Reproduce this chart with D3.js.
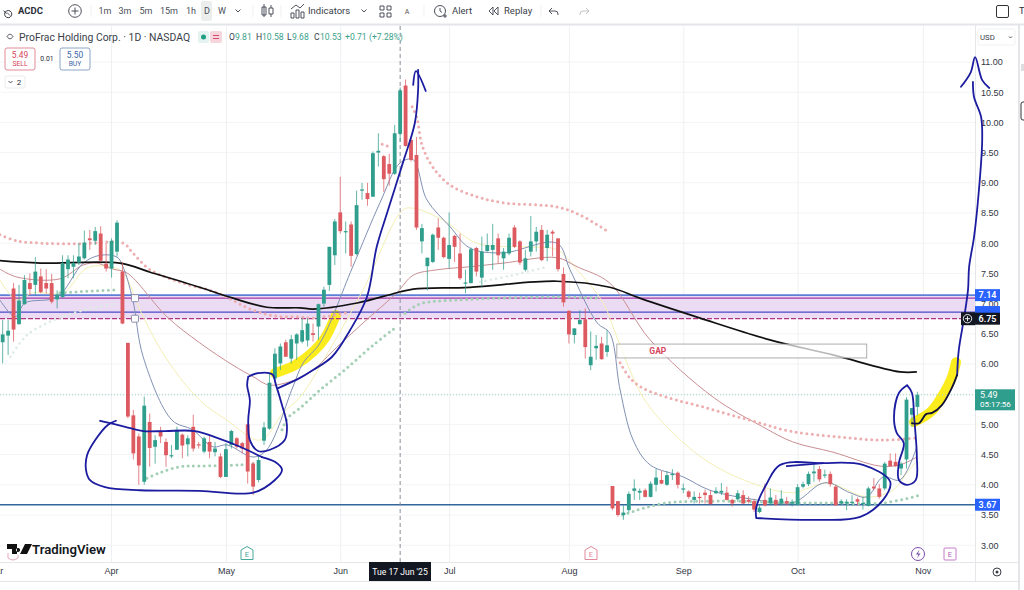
<!DOCTYPE html>
<html><head><meta charset="utf-8">
<script src="https://cdnjs.cloudflare.com/ajax/libs/d3/7.8.5/d3.min.js"></script>
<style>html,body{margin:0;padding:0;background:#fff;overflow:hidden}svg{display:block;font-family:Roboto,"Liberation Sans",sans-serif}</style>
</head><body><svg id="c" width="1024" height="590"></svg>
<script>
// ---- price data: one entry per daily bar
const opens=[6.36,6.47,7.25,6.66,6.99,7.34,7.31,7.45,7.34,7.34,7.07,7.11,7.57,7.61,7.68,7.75,8.08,8.04,8.16,7.66,7.58,7.86,7.53,6.35,5.15,4.80,4.05,5.04,4.63,4.89,4.71,4.47,4.58,4.83,4.67,4.96,4.67,4.55,4.71,4.54,4.47,4.13,4.66,4.77,4.69,5.00,4.35,4.08,4.73,4.93,5.76,6.01,6.36,6.09,6.34,6.37,6.39,6.51,6.62,7.00,7.31,7.80,8.51,8.19,8.31,7.82,8.87,8.83,8.77,9.50,9.44,9.31,9.15,9.81,10.61,9.71,9.46,8.03,7.62,7.69,8.26,8.09,7.74,8.12,7.83,7.33,7.34,7.92,7.43,7.87,7.89,8.08,7.75,7.83,8.26,8.03,7.56,7.86,8.03,8.22,7.92,8.19,8.08,7.49,6.88,6.48,6.66,6.74,5.98,6.26,6.34,6.20,3.98,3.73,3.50,3.58,3.90,3.87,3.91,3.80,4.00,4.08,4.00,4.16,4.20,3.92,3.89,3.75,3.80,3.87,3.83,3.86,3.87,3.87,3.75,3.76,3.83,3.75,3.73,3.55,3.75,3.69,3.75,3.69,3.73,3.69,3.67,3.97,4.01,4.19,4.26,4.16,4.18,3.97,3.69,3.69,3.71,3.76,3.68,3.65,3.97,3.94,3.94,4.40,4.38,4.27,4.42,5.16,5.29];
const highs=[6.73,6.73,7.34,7.31,7.47,7.50,7.77,7.58,7.57,7.49,7.22,7.80,7.80,7.80,8.00,8.21,8.22,8.27,8.28,8.00,8.08,8.38,7.69,6.35,5.24,4.85,5.46,5.18,4.82,4.96,4.77,4.66,4.96,4.85,4.82,5.16,4.71,4.80,4.82,4.71,4.52,4.69,4.91,4.79,4.71,5.00,4.38,4.49,5.04,5.84,6.26,6.34,6.40,6.48,6.51,6.76,6.76,6.67,7.00,7.28,7.94,8.40,9.10,8.36,8.36,8.87,9.00,9.00,9.52,9.82,9.46,9.48,9.96,10.58,10.71,9.76,9.76,8.32,7.76,8.16,8.41,8.11,8.51,8.14,8.16,7.56,7.93,7.94,8.11,8.16,8.32,8.16,7.92,8.16,8.30,8.05,7.89,8.45,8.27,8.30,8.22,8.22,8.08,7.60,6.89,6.59,6.89,6.92,6.54,6.48,6.45,6.56,3.98,3.73,3.66,3.89,4.09,3.94,3.94,4.06,4.26,4.23,4.23,4.26,4.22,4.02,3.91,3.89,3.87,3.92,3.91,3.96,4.03,3.97,3.77,3.91,3.91,3.81,3.76,3.66,4.02,3.94,3.83,3.91,3.80,3.76,4.01,4.05,4.22,4.34,4.31,4.25,4.22,4.00,3.76,3.76,3.83,3.79,3.80,3.97,4.11,4.01,4.38,4.52,4.52,4.38,5.45,5.27,5.54];
const lows=[6.01,6.15,6.37,6.65,6.98,7.14,7.14,7.17,7.17,7.00,6.92,7.09,7.42,7.42,7.64,7.73,7.89,7.97,7.69,7.53,7.43,7.78,6.66,5.10,4.42,4.00,4.00,4.30,4.35,4.69,4.30,4.44,4.58,4.44,4.47,4.55,4.60,4.52,4.44,4.47,4.11,4.13,4.60,4.60,4.52,4.02,3.83,4.04,4.66,4.91,5.71,5.90,6.12,6.01,6.07,6.34,6.29,6.37,6.40,6.95,7.21,7.64,8.16,7.83,7.61,7.80,8.72,8.62,8.77,9.27,8.85,8.95,9.13,9.68,9.60,9.35,8.22,7.83,7.22,7.67,7.89,7.75,7.58,7.69,7.39,7.17,7.33,7.45,7.28,7.86,7.56,7.67,7.56,7.80,7.92,7.64,7.53,7.78,7.86,7.70,7.70,7.78,7.53,6.95,6.34,6.34,6.65,6.09,5.90,6.07,6.07,6.12,3.58,3.47,3.42,3.54,3.75,3.75,3.79,3.79,3.89,4.01,3.98,4.08,3.94,3.86,3.77,3.69,3.69,3.69,3.67,3.85,3.83,3.74,3.64,3.72,3.68,3.69,3.55,3.53,3.64,3.66,3.65,3.66,3.66,3.64,3.66,3.94,3.98,4.05,4.05,4.11,3.97,3.66,3.66,3.58,3.66,3.66,3.59,3.64,3.91,3.77,3.91,4.30,4.30,4.16,4.27,4.96,5.15];
const closes=[6.49,6.55,6.57,7.05,7.39,7.24,7.53,7.19,7.25,7.03,7.15,7.67,7.73,7.67,7.78,8.01,8.05,8.20,7.71,7.58,8.04,8.34,6.67,5.13,4.52,4.32,5.31,4.61,4.74,4.80,4.49,4.49,4.91,4.65,4.77,4.60,4.66,4.77,4.55,4.60,4.13,4.59,4.89,4.63,4.60,4.22,3.97,4.41,4.95,5.69,6.17,6.29,6.12,6.41,6.49,6.56,6.67,6.48,6.99,7.23,7.94,8.36,8.20,8.20,7.79,8.63,8.89,8.73,9.49,9.53,9.06,9.15,9.82,10.53,9.61,9.38,8.26,8.25,7.76,8.14,8.09,7.77,7.97,7.94,7.42,7.35,7.90,7.53,7.86,7.97,7.97,7.80,7.86,8.09,7.94,7.68,7.75,8.03,8.19,7.72,8.14,8.16,7.57,7.02,6.49,6.59,6.73,6.28,6.12,6.30,6.08,6.31,3.61,3.50,3.54,3.85,3.94,3.90,3.80,4.02,4.12,4.02,4.16,4.18,4.00,3.94,3.80,3.80,3.79,3.83,3.68,3.90,3.90,3.75,3.69,3.86,3.69,3.72,3.59,3.62,3.66,3.79,3.67,3.77,3.69,3.72,3.96,4.01,4.18,4.22,4.09,4.17,4.01,3.66,3.73,3.72,3.72,3.72,3.70,3.94,3.94,3.80,4.35,4.31,4.31,4.35,5.41,5.27,5.49];

// ---- axis labels
const priceTicks=[11,10.5,10,9.5,9,8.5,8,7.5,7,6.5,6,5.5,5,4.5,4,3.5,3];
const monthNames=["Mar","Apr","May","Jun","Jul","Aug","Sep","Oct","Nov"];
const monthBars=[-1.4,19.9,41,62,82,104,125,146,169];
const crosshairBar=73;
const crosshairLabel="Tue 17 Jun '25";

// ---- moving averages: [bar, price]
const ma200=[[-0.5,7.71],[6.9,7.67],[21.5,7.67],[27.1,7.52],[36.2,7.27],[42.3,7.09],[48.5,6.94],[54.6,6.93],[57,6.91],[65.1,7.01],[72.4,7.18],[75.4,7.24],[85.8,7.27],[101.8,7.37],[111.5,7.27],[117,7.09],[128.1,6.76],[140.9,6.4],[152.5,6.15],[164.8,5.87],[167.9,5.87]];
const ma20=[[-0.5,7.06],[2.3,6.78],[4.1,7.01],[10,7.11],[14.8,7.67],[17.9,7.8],[21,7.77],[22.1,7.61],[23.9,7.06],[25.8,6.12],[31.1,5.07],[34.9,4.91],[38.6,4.63],[41.2,4.66],[46,4.46],[48.5,4.58],[53.3,5.62],[55.2,6.02],[58.3,6.35],[64.2,7.59],[69.3,8.67],[73,9.33],[75.4,9.38],[77.9,8.72],[82.2,8.27],[85.8,7.92],[91.9,7.84],[101.8,8],[104.2,7.56],[109.2,6.68],[111.5,6.51],[113.4,5.57],[115.8,4.74],[118.9,4.33],[125,4.13],[129.9,3.91],[138.5,3.75],[145.1,3.7],[150.1,4.01],[151.9,4.03],[155.6,3.87],[158.7,3.8],[161.7,4.13],[164.8,4.08],[167.9,4.63]];
const ma30=[[-0.5,7.39],[2.6,7.06],[5.6,7.18],[11.1,7.18],[15.5,7.59],[19.7,7.61],[22.1,7.51],[25.8,6.78],[30.2,6.07],[36.2,5.4],[41.2,5.07],[47.3,4.74],[51.5,5.19],[54.6,5.45],[59.7,6.18],[66.2,7.23],[73.5,8.55],[75.4,8.58],[80.9,8.38],[87.1,8],[95.6,7.94],[101.8,7.89],[105.5,7.56],[110.3,7.01],[113,6.4],[117.6,5.45],[123.1,4.86],[129.9,4.36],[138.5,4],[145.1,3.87],[151.4,4.03],[158.7,3.8],[163.5,3.91],[166.1,4.2],[167.6,4.36]];
const ma50=[[-0.5,7.57],[2.6,7.44],[10.5,7.41],[14.8,7.64],[17.3,7.67],[20.3,7.57],[22.8,7.51],[30.2,6.78],[36.2,6.35],[42.3,5.98],[46,5.79],[49.1,5.65],[54.6,5.77],[57,5.9],[61.4,6.28],[66.2,6.68],[72.4,7.18],[75.4,7.47],[79.8,7.56],[85.8,7.61],[91.9,7.67],[101.8,7.76],[105.5,7.61],[111.5,7.34],[118.9,6.4],[130.5,5.45],[139.6,4.96],[145.1,4.71],[152.5,4.54],[161.1,4.31],[164.8,4.33],[167.9,4.46]];

// ---- dotted bands: [bar, price]
const pinkDots=[
 [[-0.5,8.14],[2.6,8.04],[7.4,8],[14.2,7.99],[22.1,8],[23.9,7.84],[27.1,7.56],[33.1,7.34],[39.4,7.18],[46,6.89],[50.4,6.79],[54.6,6.78],[57,6.76],[63.8,6.86]],
 [[69.7,9.64],[71.5,9.58]],
 [[75.2,10.26],[76.1,10.07],[77,9.63],[79,9.26],[82.2,8.96],[87.1,8.77],[91.9,8.67],[101.8,8.6],[106,8.47],[111.2,8.19]],
 [[113.4,6.02],[115.2,5.77],[117.6,5.6],[122,5.45],[129.4,5.27],[137.2,5.07],[144.6,4.89],[153.8,4.79],[161.7,4.74],[168.1,4.78]]
];
const greenDots=[
 [[10.5,7.18],[21.2,7.23]],
 [[26.5,4.11],[28.9,4.2],[32.6,4.3],[36.2,4.31],[43.6,4.33],[47.8,4.36]],
 [[51.3,4.91],[52.4,5.11],[54.6,5.27],[58.3,5.57],[63.2,5.93],[68,6.31],[72.1,6.6]],
 [[73.9,6.84],[75.4,6.94],[77.2,7.01],[83.4,7.06],[101.8,7.11],[109.7,7.09]],
 [[113.9,3.5],[116.5,3.58],[122,3.7],[131.2,3.73],[146.4,3.7],[152.5,3.7],[161.7,3.7],[168.1,3.82]]
];
const paleDots=[
 [[1.4,6.12],[4.5,6.48],[8.7,6.7],[12.9,6.84],[21,7.01]],
 [[87.7,7.36],[93.2,7.46],[100,7.61]]
];

// ---- levels, gap box
const levelTop=7.14, levelMagenta=7.09, levelBlue=6.86, levelBottom=6.75, levelSupport=3.67, lastPrice=5.49;
const gapBox={from:112.8,to:158.7,top:6.33,bottom:6.10,label:"GAP"};
const handleBars=[24.3,24.3];

// ---- hand-drawn annotations: [bar, price]
const penTrend=[[17.9,5.06],[22.5,4.96],[25.8,4.89],[29.8,4.89],[35.3,4.89],[39,4.79],[43.6,4.63],[47.6,4.46]];
const penEllipseLeft=[[20.8,5.06],[19.3,4.99],[17,4.74],[15.5,4.49],[15.3,4.25],[16,4.08],[18.8,3.96],[25.2,3.91],[36.2,3.9],[46,3.87],[50,4.08],[51.3,4.25],[50,4.38],[47.6,4.46]];
const penLoopMay=[[45.1,5.79],[46.9,5.85],[49.5,5.83],[50.2,5.65],[51.3,5.32],[52.2,4.99],[51.8,4.74],[49.1,4.58],[46.9,4.56],[45.4,4.74],[45.1,5.07],[45.4,5.4],[44.9,5.65],[45.1,5.79]];
const penArrowMain=[[50.6,5.6],[54.6,5.77],[57,5.9],[60.5,6.12],[63.8,6.56],[66.9,7.11],[68.7,7.94],[70.6,8.5],[73.5,9.33],[75.7,9.99],[76.3,10.54],[76.3,10.87]];
const penArrowMainHead=[[75.4,10.62],[75.9,10.85],[77.7,10.52]];
const penRightBlack=[[167,5.02],[168.3,5.02],[169.6,5.17],[170.7,5.19],[172.5,5.32],[174.3,5.6],[175.3,5.82]];
const penRightBlue=[[175.3,5.82],[175.6,6.23],[176.6,6.78],[177.3,7.23],[177.5,7.61],[178.4,8.1],[179.3,8.88],[179.9,9.71],[179.7,10.09],[178.4,10.42],[178.2,10.67]];
const penRightHead=[[176,10.59],[177.8,10.83],[178.6,11.08],[179.9,10.7],[181.2,10.57]];
const penLoopLast=[[166.1,5.65],[164.6,5.52],[163.7,5.12],[164.2,4.86],[165.5,4.69],[164.6,4.36],[164.6,4.08],[166.1,4],[167.7,4.08],[167.9,4.46],[167.4,5.12],[167,5.52],[166.1,5.65]];
const penEllipseOct=[[138.4,3.45],[138.4,3.62],[140.4,4.03],[142.8,4.33],[150.7,4.36],[158,4.33],[163,4.05],[161.7,3.75],[157.5,3.47],[149.6,3.42],[138.4,3.45]];
const penOctTop=[[144,4.31],[150.7,4.36]];
const markerJun=[[50,5.85],[53.7,5.98],[57,6.2],[59.2,6.43],[61.2,6.81]];
const markerNov=[[167.4,5.04],[170.5,5.21],[172.9,5.52],[174.3,5.77],[175.1,6.03]];

// ---- chart set-up
const svg=d3.select("#c");
const PL=0,PR=975,PT=26,PB=562;
const x=d3.scaleLinear().domain([0,168]).range([2.67,917.4]);
const y=d3.scaleLinear().domain([3,11]).range([545.2,62]);
const GREEN="#2f9e8c",RED="#dc5a60",PEN="#1c1ca0";
const lineGen=c=>d3.line().x(d=>x(d[0])).y(d=>y(d[1])).curve(c||d3.curveCatmullRom.alpha(.5));

const G=svg.append("g");
// grid
G.selectAll(".gy").data(priceTicks).join("line").attr("x1",PL).attr("x2",PR).attr("y1",d=>y(d)).attr("y2",d=>y(d)).attr("stroke","#f3f4f6");
G.selectAll(".gx").data(monthBars).join("line").attr("x1",d=>x(d)+.5).attr("x2",d=>x(d)+.5).attr("y1",PT).attr("y2",PB).attr("stroke","#eef0f3");

// zone
G.append("rect").attr("x",PL).attr("width",PR-PL).attr("y",y(levelTop)).attr("height",y(levelBottom)-y(levelTop)).attr("fill","#ecdcf3");

// markers
[[markerJun,10],[markerNov,10]].forEach(([d,w])=>G.append("path").attr("d",lineGen()(d)).attr("fill","none").attr("stroke","#fbec1e").attr("stroke-width",w).attr("stroke-linecap","round"));

// level lines
const lvl=(v,col,w,dash)=>G.append("line").attr("x1",PL).attr("x2",PR).attr("y1",y(v)).attr("y2",y(v)).attr("stroke",col).attr("stroke-width",w).attr("stroke-dasharray",dash||null);
lvl(levelTop,"#5b80d6",1.8);lvl(levelMagenta,"#a43aa8",1.2);lvl(levelBlue,"#4a4ac8",1.2);lvl(levelBottom,"#b0337f",1.2,"5 2");lvl(levelSupport,"#33669c",1.4);
lvl(lastPrice,"#9fd3c6",1,"1 2");

// indicators
[[ma30,"#f4efb4",1],[ma50,"#c98e92",1],[ma20,"#8090b4",1]].forEach(([d,c,w])=>G.append("path").attr("d",lineGen()(d)).attr("fill","none").attr("stroke",c).attr("stroke-width",w));
const dotted=(sets,c,w)=>sets.forEach(d=>G.append("path").attr("d",lineGen()(d)).attr("fill","none").attr("stroke",c).attr("stroke-width",w).attr("stroke-linecap","round").attr("stroke-dasharray","0 5.4"));
dotted(paleDots,"#dcebe4",2.6);dotted(pinkDots,"#eeaeb0",3);dotted(greenDots,"#a3cfb4",3);
G.append("path").attr("d",lineGen()(ma200)).attr("fill","none").attr("stroke","#111").attr("stroke-width",1.7);

// crosshair
G.append("line").attr("x1",x(crosshairBar)).attr("x2",x(crosshairBar)).attr("y1",PT).attr("y2",PB).attr("stroke","#8a8f99").attr("stroke-dasharray","4 3");

// candles
const bars=d3.range(opens.length).map(i=>({i,o:opens[i],h:highs[i],l:lows[i],c:closes[i]}));
const col=d=>d.c>=d.o?GREEN:RED;
const C=G.selectAll(".bar").data(bars).join("g");
C.append("line").attr("x1",d=>x(d.i)).attr("x2",d=>x(d.i)).attr("y1",d=>y(d.h)).attr("y2",d=>y(d.l)).attr("stroke",d=>col(d)).attr("stroke-opacity",.75);
C.append("rect").attr("x",d=>x(d.i)-1.9).attr("width",3.8).attr("y",d=>y(Math.max(d.o,d.c))).attr("height",d=>Math.max(1.2,Math.abs(y(d.o)-y(d.c)))).attr("fill",d=>col(d));

// handles
G.selectAll(".h").data([levelMagenta,levelBottom]).join("rect").attr("x",x(handleBars[0])-3.5).attr("y",d=>y(d)-3.5).attr("width",7).attr("height",7).attr("rx",1).attr("fill","#fff").attr("stroke","#8b8fa8");

// gap box
G.append("rect").attr("x",x(gapBox.from)).attr("width",x(gapBox.to)-x(gapBox.from)).attr("y",y(gapBox.top)).attr("height",y(gapBox.bottom)-y(gapBox.top)).attr("fill","#fff").attr("fill-opacity",.7).attr("stroke","#9a9a9a").attr("stroke-width",.8);
G.append("text").attr("x",x(gapBox.from)+41).attr("y",(y(gapBox.top)+y(gapBox.bottom))/2+3).attr("text-anchor","middle").attr("font-size",8.5).attr("font-weight",700).attr("fill","#d6485c").text(gapBox.label);

// axes
const yAxis=d3.axisRight(y).tickValues(priceTicks).tickFormat(d3.format(".2f")).tickSize(0).tickPadding(5.5);
const ya=svg.append("g").attr("transform",`translate(${PR+.5},0)`).call(yAxis);
ya.select(".domain").remove();ya.selectAll("text").attr("font-size",9).attr("fill","#33363f").attr("font-family",null);
const xAxis=d3.axisBottom(x).tickValues(monthBars).tickFormat((d,i)=>monthNames[i]).tickSize(0).tickPadding(6);
const xa=svg.append("g").attr("transform",`translate(0,${PB})`).call(xAxis);
xa.select(".domain").remove();xa.selectAll("text").attr("font-size",9).attr("fill","#33363f").attr("font-family",null);

// frame lines
const hl=(x1,y1,x2,y2,c,w)=>svg.append("line").attr("x1",x1).attr("y1",y1).attr("x2",x2).attr("y2",y2).attr("stroke",c).attr("stroke-width",w||1);
hl(0,24.5,1024,24.5,"#e4e5e8",2);hl(975.5,25,975.5,581,"#e6e7ea");hl(0,562.5,1018,562.5,"#e6e7ea");hl(0,581.5,1018,581.5,"#e4e5e8");hl(1019,25,1019,590,"#e4e5e8",2);

// pen annotations
const pen=(d,c,w)=>svg.append("path").attr("d",lineGen()(d)).attr("fill","none").attr("stroke",c||PEN).attr("stroke-width",w||1.8).attr("stroke-linecap","round").attr("stroke-linejoin","round");
[penEllipseLeft,penTrend,penLoopMay,penArrowMain,penArrowMainHead,penLoopLast,penEllipseOct,penOctTop,penRightBlue,penRightHead].forEach(d=>pen(d));
pen(penRightBlack,"#10103c");

// tags
const tag=(v,c,t,x0,w)=>{svg.append("rect").attr("x",x0||975).attr("width",w||25).attr("y",y(v)-6).attr("height",12).attr("fill",c);
 svg.append("text").attr("x",(x0||975)+(w||25)-12.5).attr("y",y(v)+3.2).attr("text-anchor","middle").attr("font-size",9).attr("font-weight",600).attr("fill","#fff").text(t);};
tag(levelBlue,"#2962ff","");
tag(levelTop,"#2962ff",levelTop.toFixed(2));
tag(levelSupport,"#2962ff",levelSupport.toFixed(2));
svg.append("rect").attr("x",961).attr("y",y(levelBottom)-6.5).attr("width",14).attr("height",13).attr("fill","#131722");
tag(levelBottom,"#131722",levelBottom.toFixed(2));
svg.append("circle").attr("cx",967.5).attr("cy",y(levelBottom)).attr("r",4.2).attr("fill","none").attr("stroke","#fff").attr("stroke-width",.9);
svg.append("path").attr("d",`M965 ${y(levelBottom)}h5M967.5 ${y(levelBottom)-2.5}v5`).attr("stroke","#fff").attr("stroke-width",.9);
svg.append("rect").attr("x",975).attr("y",y(lastPrice)-5.5).attr("width",40).attr("height",21).attr("fill","#2f9e8c");
svg.append("text").attr("x",980).attr("y",y(lastPrice)+2.8).attr("font-size",9).attr("fill","#fff").text(lastPrice.toFixed(2));
svg.append("text").attr("x",980).attr("y",y(lastPrice)+12.6).attr("font-size",8).attr("fill","#fff").text("05:17:56");
// crosshair time tag
svg.append("rect").attr("x",369).attr("y",562).attr("width",62).attr("height",19).attr("fill","#131722");
svg.append("text").attr("x",400).attr("y",575).attr("text-anchor","middle").attr("font-size",8.6).attr("fill","#fff").text(crosshairLabel);

// toolbar
const T=(s,xx,yy,o={})=>svg.append("text").attr("x",xx).attr("y",yy).attr("font-size",o.fs||9).attr("font-weight",o.fw||400).attr("fill",o.c||"#2a2e39").attr("text-anchor",o.a||"start").text(s);
const S=(d,w)=>svg.append("path").attr("d",d).attr("fill","none").attr("stroke","#3a3e49").attr("stroke-width",w||.9);
svg.append("rect").attr("x",201).attr("y",1).attr("width",11).attr("height",20).attr("rx",2).attr("fill","#eceded");
T("ACDC",18,14,{fs:9.5,fw:700});
S("M8.2 10.5a3.6 3.6 0 1 0 .01 0M6.5 13.6l-3 -3",1);
S("M7 12.5l3 3");
svg.select("path:last-child");
svg.append("circle").attr("cx",75).attr("cy",11).attr("r",6.3).attr("fill","none").attr("stroke","#3a3e49").attr("stroke-width",.9);
S("M71.5 11h7M75 7.5v7");
[["1m",105],["3m",125],["5m",146],["15m",169],["1h",191],["D",207],["W",222]].forEach(([t,xx])=>T(t,xx,14,{a:"middle",c:"#4a4e59"}));
S("M235.5 9.5l2.5 2.5 2.5-2.5");
S("M91 5v12M253 5v12M281 5v12M424 5v12M541 5v12",.6).attr("stroke","#e4e5e8");
S("M264 4v13M262 7h4v8h-4zM269 8h4v6h-4zM271 5v3M271 14v3");
S("M291 18v-5h3v5zM296 18v-8h3v8zM301 18v-6h3v6zM291 9l5-4 4 3 4-4");
T("Indicators",308,14,{fs:9.5,c:"#3a3e49"});
S("M361.5 9.5l2.5 2.5 2.5-2.5");
S("M380 6h4v4h-4zM387 6h4v4h-4zM380 13h4v4h-4zM387 13h4v4h-4z");
T("A",407,14,{fs:7,a:"middle",c:"#555"});
svg.append("circle").attr("cx",440).attr("cy",11).attr("r",5.5).attr("fill","none").attr("stroke","#3a3e49").attr("stroke-width",.9);
S("M440 8v3l2 1.5M443 16h4M445 14v4");
T("Alert",452,14,{fs:9.5,c:"#3a3e49"});
S("M493 7l-4 4 4 4zM498 7l-4 4 4 4z");
T("Replay",504,14,{fs:9.5,c:"#3a3e49"});
S("M552 8l-3 3 3 3M549 11h6a3 3 0 0 1 3 3v1");
S("M586 8l3 3-3 3M589 11h-6a3 3 0 0 0-3 3v1").attr("stroke","#bbb");
svg.append("rect").attr("x",996.5).attr("y",5.5).attr("width",12).attr("height",12).attr("rx",1.5).attr("fill","none").attr("stroke","#333").attr("stroke-width",1);
T("Ti",1019,14,{fs:9.5});

// legend row
S("M7 36.5c2-3 4-3 6 0c-2 3-4 3-6 0z");
T("ProFrac Holding Corp. · 1D · NASDAQ",19,40.5,{fs:10.4,c:"#3a3e49"});
svg.append("rect").attr("x",198).attr("y",31).attr("width",11).attr("height",12).attr("rx",2).attr("fill","#e4f3ef");
svg.append("circle").attr("cx",203.5).attr("cy",37).attr("r",2.5).attr("fill","#1f9e83");
svg.append("rect").attr("x",210).attr("y",31).attr("width",12).attr("height",12).attr("rx",2).attr("fill","#f7d5dd");
S("M213 35.5h6M213 38.5h6",1).attr("stroke","#d6486c");
[["O",229],["9.81",235],["H",256],["10.58",262],["L",287],["9.68",292],["C",314],["10.53",320],["+0.71",345],["(+7.28%)",369]].forEach(([t,xx],i)=>T(t,xx,40,{fs:8.6,c:(i<8&&i%2==0)?"#3a3e49":"#3c9f8a"}));
const box=(a,b,c,d,st)=>svg.append("rect").attr("x",a).attr("y",b).attr("width",c).attr("height",d).attr("rx",2).attr("fill","#fff").attr("stroke",st).attr("stroke-width",.8);
box(5,48,30,22,"#d9707e");box(60,48,30,22,"#6f8fb8");
T("5.49",20,57.5,{fs:8.4,c:"#d5455a",a:"middle"});T("SELL",20,66,{fs:6.8,c:"#d5455a",a:"middle"});
T("0.01",47,61,{fs:6.8,a:"middle"});
T("5.50",75,57.5,{fs:8.4,c:"#3d66a8",a:"middle"});T("BUY",75,66,{fs:6.8,c:"#3d66a8",a:"middle"});
box(5,76,20,12,"#e6e7ea");
S("M8.5 81l2 2 2-2");T("2",19,85,{fs:8,a:"middle"});
box(978,29,37,16,"#eceef0");T("USD",980,40,{fs:7.8,c:"#3a3e49"});S("M1009 36.5l1.5 1.5 1.5-1.5");

// logo
svg.append("path").attr("d","M7 544h10v10h-5v-5H7zM18 548a2 2 0 1 0 .1 0zM25 544h7l-5 10h-7z").attr("fill","#111");
S("M8 553v5q5 4 10 0v-3",1).attr("stroke","#e8a8c0");
T("TradingView",32,553.5,{fs:13.2,fw:600,c:"#131722"});

// event markers
const ev=(xx,c,t)=>{svg.append("path").attr("d",`M${xx-6} 550l6-3.5 6 3.5v9.5h-12z`).attr("fill","#fff").attr("stroke",c).attr("stroke-width",1);T(t,xx,557,{fs:7.5,a:"middle",c});};
ev(247,"#4aa89a","E");ev(591,"#e08a9c","E");
svg.append("circle").attr("cx",918).attr("cy",554).attr("r",6.5).attr("fill","#fff").attr("stroke","#7a4aa8");
svg.append("path").attr("d","M919.5 549.5l-3.5 5h2.5l-1.5 4 3.5-5h-2.5z").attr("fill","#7a4aa8");
svg.append("rect").attr("x",944).attr("y",548).attr("width",12).attr("height",12).attr("rx",1).attr("fill","#fff").attr("stroke","#c77ac7");
T("E",950,557,{fs:7.5,a:"middle",c:"#b060b0"});
svg.append("circle").attr("cx",997).attr("cy",572).attr("r",4).attr("fill","none").attr("stroke","#3a3e49");
svg.append("circle").attr("cx",997).attr("cy",572).attr("r",1.5).attr("fill","#3a3e49");
svg.append("rect").attr("x",1021).attr("y",102).attr("width",6).attr("height",18).attr("rx",2).attr("fill","#fff").attr("stroke","#333");
svg.append("rect").attr("x",1021).attr("y",64).attr("width",3).attr("height",7).attr("fill","#ddd");
</script></body></html>
